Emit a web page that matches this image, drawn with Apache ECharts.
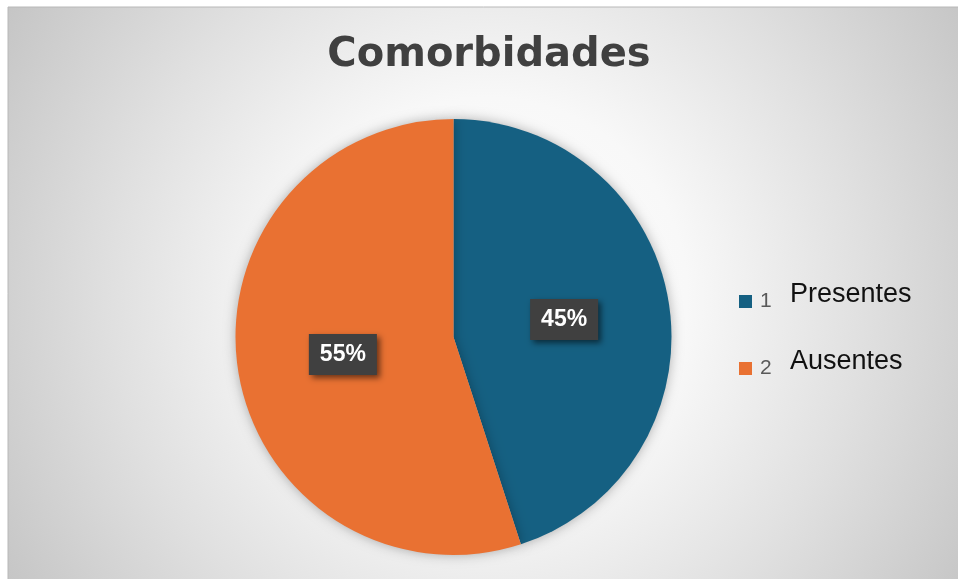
<!DOCTYPE html>
<html>
<head>
<meta charset="utf-8">
<script src="https://cdn.jsdelivr.net/npm/echarts@6/dist/echarts.min.js"></script>
<style>html,body{margin:0;padding:0;background:#fff;}#c{width:958px;height:579px;}</style>
</head>
<body>
<div id="c"></div>
<script>
const titleText = 'Comorbidades';
const categories = ['Presentes', 'Ausentes'];
const legendNums = ['1', '2'];
const values = [45, 55];
const colors = ['#156082', '#E97132'];

const chart = echarts.init(document.getElementById('c'), null, {renderer: 'canvas'});
chart.setOption({
  backgroundColor: '#ffffff',
  animation: false,
  graphic: [{
    type: 'rect', z: -10, silent: true,
    shape: {x: 8, y: 7, width: 960, height: 580},
    style: {
      fill: new echarts.graphic.RadialGradient(0.5, 0.5, 0.98, [
        {offset: 0, color: '#ffffff'},
        {offset: 0.35, color: '#f8f8f8'},
        {offset: 0.66, color: '#e0e0e0'},
        {offset: 1, color: '#c4c4c4'}
      ]),
      stroke: '#b8b8b8', lineWidth: 1
    }
  }],
  title: {
    text: titleText,
    left: 484, top: 31, textAlign: 'center',
    textStyle: {fontFamily: 'DejaVu Sans', fontWeight: 'bold', fontSize: 40, color: '#404040'}
  },
  legend: {
    orient: 'vertical',
    left: 739, top: 281,
    padding: 0,
    itemWidth: 13, itemHeight: 13,
    itemGap: 26,
    icon: 'rect',
    data: categories,
    formatter: function (name) {
      const i = categories.indexOf(name);
      return '{n|' + legendNums[i] + '}{t|' + name + '}';
    },
    textStyle: {
      rich: {
        n: {fontFamily: 'Liberation Sans', fontSize: 21, color: '#595959', verticalAlign: 'middle', lineHeight: 22, width: 30, padding: [0, 0, 0, 3]},
        t: {fontFamily: 'Liberation Sans', fontSize: 27, color: '#111111', verticalAlign: 'middle', lineHeight: 30, padding: [0, 0, 14, 0]}
      }
    }
  },
  series: [{
    type: 'pie',
    center: [453.5, 337],
    radius: 218,
    startAngle: 90,
    clockwise: true,
    data: categories.map((c, i) => ({name: c, value: values[i], itemStyle: {color: colors[i]}})),
    itemStyle: {shadowBlur: 12, shadowColor: 'rgba(0,0,0,0.3)'},
    label: {
      show: true,
      position: 'inside',
      formatter: '{d}%',
      fontFamily: 'Liberation Sans',
      fontWeight: 'bold',
      fontSize: 23,
      color: '#ffffff',
      backgroundColor: '#404040',
      padding: [9, 11, 9, 11],
      shadowBlur: 6,
      shadowColor: 'rgba(0,0,0,0.55)',
      shadowOffsetX: 3,
      shadowOffsetY: 3
    },
    labelLine: {show: false},
    emphasis: {disabled: true}
  }]
});
</script>
</body>
</html>
